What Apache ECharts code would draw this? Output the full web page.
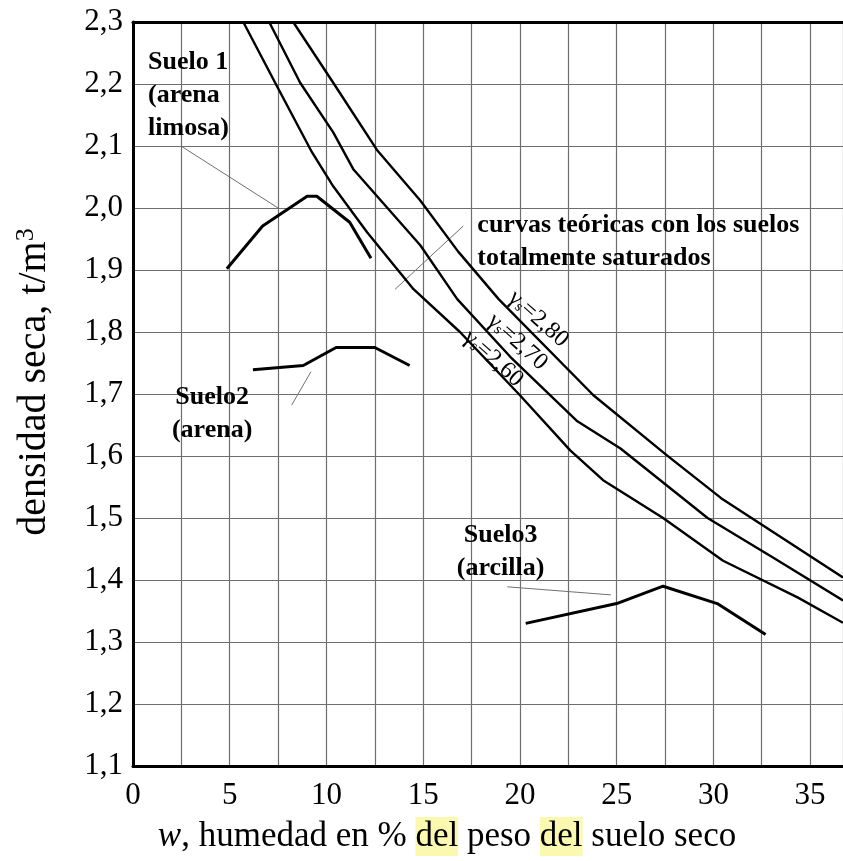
<!DOCTYPE html>
<html>
<head>
<meta charset="utf-8">
<script src="https://cdn.jsdelivr.net/npm/echarts@6/dist/echarts.min.js"></script>
<style>
html,body{margin:0;padding:0;background:#fff;}
#chartsDiv{width:843px;height:861px;}
</style>
</head>
<body>
<div id="chartsDiv"></div>
<script>
// curvas teoricas (saturadas) - [w %, densidad]
var gs260 = [[5.7,2.30],[7.45,2.196],[9.25,2.09],[10.35,2.035],[12.1,1.961],[14.5,1.869],[16.9,1.80],[20.0,1.698],[22.6,1.609],[24.3,1.561],[27.4,1.50],[30.5,1.431],[34.35,1.372],[36.7,1.331]];
var gs270 = [[7.04,2.30],[8.64,2.202],[10.35,2.122],[11.4,2.062],[14.85,1.94],[16.76,1.853],[19.5,1.76],[22.97,1.656],[25.2,1.612],[29.7,1.50],[33.1,1.436],[36.7,1.367]];
var gs280 = [[8.28,2.30],[10.35,2.202],[12.6,2.094],[14.85,2.012],[16.8,1.93],[18.9,1.853],[23.8,1.698],[27.6,1.601],[30.4,1.532],[36.7,1.404]];
// suelos
var suelo1 = [[4.85,1.902],[6.7,1.971],[9.0,2.019],[9.5,2.019],[11.2,1.977],[12.3,1.919]];
var suelo2 = [[6.2,1.739],[8.8,1.746],[10.5,1.775],[12.5,1.775],[14.3,1.746]];
var suelo3 = [[20.3,1.330],[25.0,1.362],[27.4,1.390],[30.2,1.362],[32.7,1.312]];
// lineas de referencia de los textos
var leaders = [
	[[2.53,2.099],[7.5,2.0]],
	[[8.2,1.682],[9.2,1.736]],
	[[19.35,1.389],[24.7,1.376]],
	[[17.07,1.971],[13.55,1.869]]
];
var xTicks = [0,5,10,15,20,25,30,35];
var yTicks = [1.1,1.2,1.3,1.4,1.5,1.6,1.7,1.8,1.9,2.0,2.1,2.2,2.3];
var gsNames = ['2,60','2,70','2,80'];
var gsLabelAt = [[18.62,1.757],[19.87,1.784],[20.95,1.821]];
var notes = ['Suelo 1\n(arena\nlimosa)','Suelo2\n(arena)','Suelo3\n(arcilla)','curvas teóricas con los suelos\ntotalmente saturados'];
var notesAt = [[0.78,2.262],[4.09,1.668],[19.0,1.446],[17.8,1.946]];
var notesAlign = [['left','top'],['center','middle'],['center','middle'],['left','middle']];

var serif = '"Liberation Serif","DejaVu Serif",serif';

var chart = echarts.init(document.getElementById('chartsDiv'));

function curve(data,w){
	return {
		type:'line', data:data, showSymbol:false, symbol:'none', smooth:false,
		lineStyle:{color:'#000', width:w, join:'round'}, silent:true, clip:true, z:3
	};
}

var series = [
	curve(gs260,2.4), curve(gs270,2.4), curve(gs280,2.4),
	curve(suelo1,3), curve(suelo2,3), curve(suelo3,3)
];

for(var i=0;i<leaders.length;i++){
	series.push({
		type:'line', data:leaders[i], showSymbol:false, symbol:'none',
		lineStyle:{color:'#707070', width:1}, silent:true, z:2
	});
}

// etiquetas gamma s
var gsData = [];
for(var i=0;i<gsNames.length;i++){
	gsData.push({value:gsLabelAt[i], name:gsNames[i]});
}
series.push({
	type:'scatter', data:gsData, symbolSize:0, silent:true, z:5,
	itemStyle:{opacity:1},
	label:{
		show:true, position:'inside', rotate:-42,
		formatter:function(p){ return 'γ{s|s}=' + p.name; },
		fontFamily:serif, fontSize:24, color:'#000',
		rich:{ s:{fontFamily:serif, fontSize:15, color:'#000', padding:[8,0,0,0]} }
	}
});

// textos
var noteData = [];
for(var i=0;i<notes.length;i++){
	noteData.push({
		value:notesAt[i], name:notes[i],
		label:{align:notesAlign[i][0], verticalAlign:notesAlign[i][1]}
	});
}
series.push({
	type:'scatter', data:noteData, symbolSize:0, silent:true, z:5,
	itemStyle:{opacity:1},
	label:{
		show:true, position:'inside',
		formatter:function(p){ return p.name; },
		fontFamily:serif, fontSize:26, fontWeight:'bold', color:'#000', lineHeight:33
	}
});

var gridLine = {show:true, lineStyle:{color:'#6e6e6e', width:1.2}};

var opt = {
	backgroundColor:'#fff',
	animation:false,
	grid:{left:133, top:22, right:0, bottom:92},
	xAxis:[{
		type:'value', min:0, max:36.7, interval:2.5,
		axisLine:{show:true, onZero:false, lineStyle:{color:'#000', width:3}},
		axisTick:{show:false},
		splitLine:gridLine,
		axisLabel:{
			margin:14, fontFamily:serif, fontSize:31, color:'#000', showMaxLabel:false,
			formatter:function(v){ return xTicks.indexOf(v) >= 0 ? String(v) : ''; }
		},
		name:'{i|w}, humedad en % {h|del} peso {h|del} suelo seco',
		nameLocation:'middle', nameGap:51,
		nameTextStyle:{
			fontFamily:serif, fontSize:35, color:'#000', padding:[0,82,0,0],
			rich:{
				i:{fontFamily:serif, fontSize:35, fontStyle:'italic', color:'#000'},
				h:{fontFamily:serif, fontSize:35, color:'#000', backgroundColor:'#fbf9b0', padding:[2,0,2,0]}
			}
		}
	},{
		type:'value', position:'top', min:0, max:36.7, interval:2.5,
		axisLine:{show:true, lineStyle:{color:'#000', width:3}},
		axisTick:{show:false}, axisLabel:{show:false}, splitLine:{show:false}
	}],
	yAxis:{
		type:'value', min:1.1, max:2.3, interval:0.1,
		axisLine:{show:true, onZero:false, lineStyle:{color:'#000', width:3}},
		axisTick:{show:false},
		splitLine:gridLine,
		axisLabel:{
			margin:10, fontFamily:serif, fontSize:31, color:'#000',
			formatter:function(v){
				var s = v.toFixed(1).replace('.',',');
				for(var k=0;k<yTicks.length;k++){ if(Math.abs(yTicks[k]-v)<1e-6) return s; }
				return '';
			}
		},
		name:'densidad seca, t/m{sup|3}',
		nameLocation:'middle', nameRotate:90, nameGap:78,
		nameTextStyle:{
			fontFamily:serif, fontSize:40, color:'#000', padding:[0,0,0,24],
			rich:{ sup:{fontFamily:serif, fontSize:26, color:'#000', padding:[0,0,16,0]} }
		}
	},
	series:series
};
chart.setOption(opt);
</script>
</body>
</html>
